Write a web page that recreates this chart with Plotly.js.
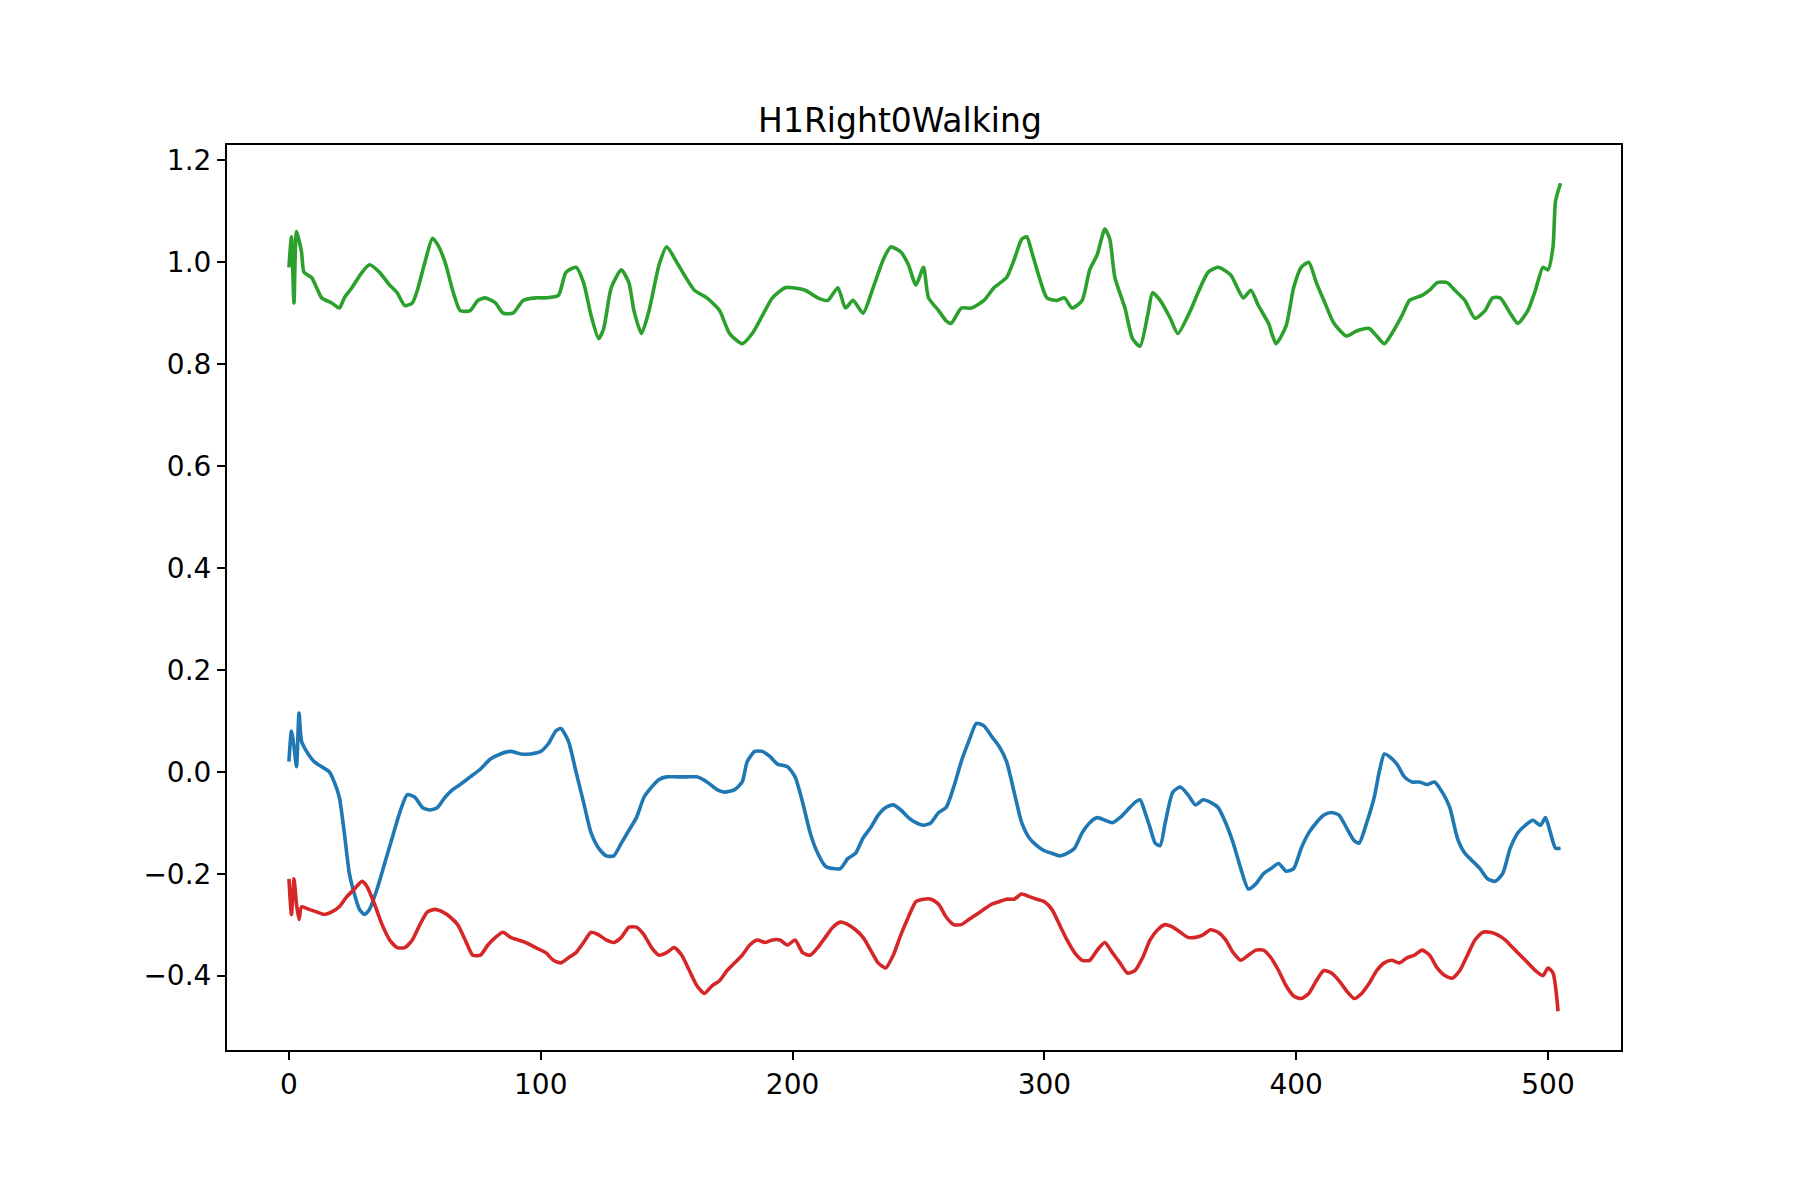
<!DOCTYPE html>
<html>
<head>
<meta charset="utf-8">
<script src="https://cdn.plot.ly/plotly-3.0.1.min.js"></script>
<style>body{margin:0;background:#fff}</style>
</head>
<body>
<div id="chart" style="width:1800px;height:1200px"></div>
<script>
// values: sample index -> value
const greenX = [0,1,2,3,5,6,9,11,13,17,20,22,25,29,32,36,40,43,46,49,51,54,57,59,62,65,68,72,75,78,82,85,89,93,98,102,107,110,114,117,120,123,125,128,132,135,137,140,143,147,150,154,157,161,166,171,175,180,184,188,192,197,200,205,210,214,218,221,224,228,232,236,239,243,246,249,252,254,258,261,263,267,271,276,280,285,288,291,293,295,298,301,305,308,311,315,318,321,324,326,328,332,335,338,341,343,346,350,353,358,361,365,369,374,379,382,385,389,392,396,399,402,405,408,411,415,420,424,429,432,435,438,442,445,450,453,456,460,463,467,471,475,478,481,485,488,492,495,498,500,502,503,505]
const greenY = [0.99,1.05,0.92,1.06,1.02,0.98,0.97,0.95,0.93,0.92,0.91,0.93,0.95,0.98,0.995,0.98,0.955,0.94,0.915,0.92,0.945,1.0,1.047,1.035,1.0,0.945,0.905,0.905,0.925,0.93,0.92,0.9,0.9,0.925,0.93,0.93,0.935,0.98,0.99,0.96,0.895,0.85,0.87,0.95,0.985,0.96,0.905,0.86,0.905,0.995,1.03,1.0,0.975,0.945,0.93,0.905,0.86,0.84,0.86,0.895,0.93,0.95,0.95,0.945,0.93,0.925,0.95,0.91,0.925,0.9,0.95,1.005,1.03,1.02,0.995,0.955,0.99,0.93,0.905,0.885,0.88,0.91,0.91,0.925,0.95,0.97,1.005,1.045,1.05,1.02,0.97,0.93,0.925,0.93,0.91,0.925,0.985,1.015,1.065,1.045,0.97,0.91,0.85,0.835,0.895,0.94,0.925,0.89,0.86,0.905,0.94,0.98,0.99,0.975,0.93,0.945,0.915,0.88,0.84,0.875,0.95,0.99,1.0,0.96,0.925,0.88,0.855,0.865,0.87,0.855,0.84,0.86,0.895,0.925,0.935,0.945,0.96,0.96,0.945,0.925,0.89,0.905,0.93,0.93,0.9,0.88,0.905,0.945,0.99,0.985,1.03,1.12,1.155]

const blueX = [0,1,2,3,4,5,7,10,13,16,18,20,22,24,26,28,30,32,35,38,41,44,47,50,53,56,59,62,65,68,72,76,80,84,88,92,96,100,103,106,108,111,114,117,120,123,126,129,132,135,138,141,144,147,150,154,158,162,166,170,173,177,180,182,185,188,191,194,198,201,204,207,210,213,216,219,222,225,228,231,234,237,240,243,246,249,252,255,258,261,264,267,270,273,276,279,282,285,288,291,294,297,300,303,306,309,312,315,318,321,324,327,330,333,336,338,340,342,344,346,348,351,354,357,360,363,366,369,372,375,378,381,384,387,390,393,396,399,402,405,408,411,414,417,420,423,425,428,431,433,435,437,440,443,446,449,452,455,458,461,464,467,470,473,476,479,482,485,488,491,494,497,499,501,503,505]
const blueY = [0.02,0.08,0.05,0.01,0.115,0.06,0.04,0.02,0.01,0.0,-0.02,-0.05,-0.12,-0.2,-0.24,-0.27,-0.28,-0.27,-0.23,-0.18,-0.13,-0.08,-0.045,-0.05,-0.07,-0.075,-0.07,-0.05,-0.035,-0.025,-0.01,0.005,0.025,0.035,0.04,0.035,0.035,0.04,0.055,0.08,0.085,0.06,0.0,-0.06,-0.12,-0.15,-0.165,-0.165,-0.14,-0.115,-0.09,-0.05,-0.03,-0.015,-0.01,-0.01,-0.01,-0.01,-0.02,-0.035,-0.04,-0.035,-0.02,0.02,0.04,0.04,0.03,0.015,0.01,-0.01,-0.06,-0.12,-0.16,-0.185,-0.19,-0.19,-0.17,-0.16,-0.13,-0.11,-0.085,-0.07,-0.065,-0.075,-0.09,-0.1,-0.105,-0.1,-0.08,-0.07,-0.03,0.02,0.06,0.095,0.09,0.07,0.05,0.02,-0.04,-0.1,-0.13,-0.145,-0.155,-0.16,-0.165,-0.16,-0.15,-0.12,-0.1,-0.09,-0.095,-0.1,-0.09,-0.075,-0.06,-0.055,-0.08,-0.11,-0.14,-0.145,-0.1,-0.04,-0.03,-0.045,-0.065,-0.055,-0.06,-0.07,-0.1,-0.14,-0.19,-0.23,-0.22,-0.2,-0.19,-0.18,-0.195,-0.19,-0.15,-0.12,-0.1,-0.085,-0.08,-0.085,-0.11,-0.135,-0.14,-0.1,-0.05,0.0,0.035,0.03,0.015,-0.01,-0.02,-0.02,-0.025,-0.02,-0.04,-0.07,-0.13,-0.16,-0.175,-0.19,-0.21,-0.215,-0.2,-0.15,-0.12,-0.105,-0.095,-0.105,-0.09,-0.12,-0.15,-0.15]

const redX = [0,1,2,3,4,5,8,11,14,17,20,23,26,29,31,34,37,40,43,46,49,52,55,58,61,64,67,70,73,76,79,82,85,88,91,94,98,102,105,108,111,114,117,120,123,126,129,132,135,138,141,144,147,150,153,156,159,162,165,168,171,174,177,180,183,186,189,192,195,198,201,204,207,210,213,216,219,222,225,228,231,234,237,240,243,246,249,252,255,258,261,264,267,270,273,276,279,282,285,288,291,294,297,300,303,306,309,312,315,318,321,324,327,330,333,336,339,342,345,348,351,354,357,360,363,366,369,372,375,378,381,384,387,390,393,396,399,402,405,408,411,414,417,420,423,426,429,432,435,438,441,444,447,450,453,456,459,462,465,468,471,474,477,480,483,486,489,492,495,498,500,502,504]
const redY = [-0.21,-0.28,-0.21,-0.26,-0.29,-0.265,-0.27,-0.275,-0.28,-0.275,-0.265,-0.245,-0.23,-0.215,-0.225,-0.26,-0.3,-0.33,-0.345,-0.345,-0.33,-0.3,-0.275,-0.27,-0.275,-0.285,-0.3,-0.33,-0.36,-0.36,-0.34,-0.325,-0.315,-0.325,-0.33,-0.335,-0.345,-0.355,-0.37,-0.375,-0.365,-0.355,-0.335,-0.315,-0.32,-0.33,-0.335,-0.325,-0.305,-0.305,-0.32,-0.345,-0.36,-0.355,-0.345,-0.36,-0.39,-0.42,-0.435,-0.42,-0.41,-0.39,-0.375,-0.36,-0.34,-0.33,-0.335,-0.33,-0.33,-0.34,-0.33,-0.355,-0.36,-0.345,-0.325,-0.305,-0.295,-0.3,-0.31,-0.325,-0.35,-0.375,-0.385,-0.36,-0.32,-0.285,-0.255,-0.25,-0.25,-0.26,-0.285,-0.3,-0.3,-0.29,-0.28,-0.27,-0.26,-0.255,-0.25,-0.25,-0.24,-0.245,-0.25,-0.255,-0.27,-0.3,-0.33,-0.355,-0.37,-0.37,-0.35,-0.335,-0.355,-0.375,-0.395,-0.39,-0.365,-0.33,-0.31,-0.3,-0.305,-0.315,-0.325,-0.325,-0.32,-0.31,-0.315,-0.33,-0.355,-0.37,-0.36,-0.35,-0.35,-0.365,-0.39,-0.42,-0.44,-0.445,-0.435,-0.41,-0.39,-0.395,-0.41,-0.43,-0.445,-0.435,-0.415,-0.39,-0.375,-0.37,-0.375,-0.365,-0.36,-0.35,-0.36,-0.385,-0.4,-0.405,-0.39,-0.36,-0.33,-0.315,-0.315,-0.32,-0.33,-0.345,-0.36,-0.375,-0.39,-0.4,-0.385,-0.395,-0.47]

function line (x, y, color) {
  return { x: x, y: y, type: 'scatter', mode: 'lines', line: { color: color, width: 3.6, shape: 'spline', smoothing: 0.6 }, hoverinfo: 'x+y' }
}

var data = [
  line(blueX, blueY, '#1f77b4'),
  line(greenX, greenY, '#2ca02c'),
  line(redX, redY, '#d62728')
]

var axisStyle = {
  showgrid: false, zeroline: false, showline: true, mirror: true,
  linecolor: '#000', linewidth: 2, ticks: 'outside', ticklen: 8, tickwidth: 2,
  tickcolor: '#000', tickfont: { size: 28, color: '#000' }
}

var layout = {
  width: 1800,
  height: 1200,
  margin: { l: 227, r: 179, t: 145, b: 150 },
  paper_bgcolor: '#fff',
  plot_bgcolor: '#fff',
  showlegend: false,
  font: { family: 'DejaVu Sans', color: '#000' },
  title: { text: 'H1Right0Walking', font: { size: 33 }, x: 0.5, xanchor: 'center', y: 0.89, yanchor: 'bottom' },
  xaxis: Object.assign({ range: [-24.6, 529], tickvals: [0, 100, 200, 300, 400, 500] }, axisStyle),
  yaxis: Object.assign({
    range: [-0.546, 1.23],
    tickvals: [-0.4, -0.2, 0, 0.2, 0.4, 0.6, 0.8, 1.0, 1.2],
    ticktext: ['\u22120.4', '\u22120.2', '0.0', '0.2', '0.4', '0.6', '0.8', '1.0', '1.2']
  }, axisStyle)
}

Plotly.newPlot('chart', data, layout, { displayModeBar: false })
</script>
</body>
</html>
